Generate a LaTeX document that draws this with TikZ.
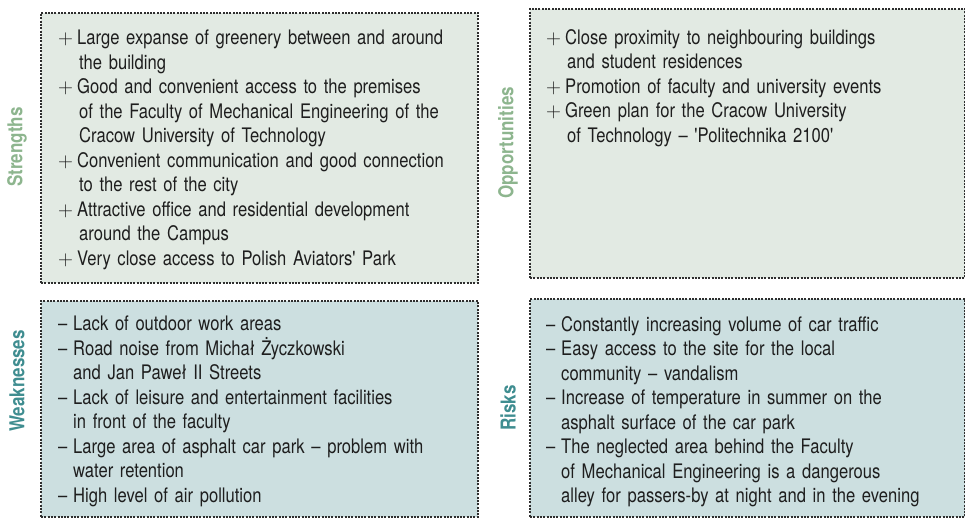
\documentclass[tikz,border=0pt]{standalone}
\usepackage{fontspec}
\newfontfamily\swotfont{TeX Gyre Heros}[FakeStretch=0.83]
\usetikzlibrary{positioning}
\definecolor{dotgray}{HTML}{2E2E2E}
\definecolor{posfill}{HTML}{E2EAE3}
\definecolor{negfill}{HTML}{CCDFE0}
\definecolor{posgreen}{HTML}{8DB58E}
\definecolor{negteal}{HTML}{3F8D90}
\definecolor{textgray}{HTML}{1E1E1E}
\tikzstyle{swotbox} = [rectangle, draw=dotgray, line width=2pt, dash pattern=on 2pt off 1.3pt, anchor=north west, inner sep=0pt]
\tikzstyle{swottext} = [anchor=north west, inner sep=0pt, text width=425pt, align=left, text=textgray, font=\swotfont\fontsize{20}{24.5}\selectfont]
\tikzstyle{swotlabel} = [rotate=90, font=\swotfont\bfseries\fontsize{20.5}{22}\selectfont]
\newcommand{\pl}{\makebox[19pt][l]{$+$}}
\newcommand{\mi}{\makebox[15pt][l]{–}}
\newcommand{\hangp}{\hspace*{21pt}}
\newcommand{\hangm}{\hspace*{15pt}}
\begin{document}
\begin{tikzpicture}[x=1pt, y=-1pt]
	\useasboundingbox (0,0) rectangle (965,517);
	% boxes
	\node (StrBox) [swotbox, fill=posfill, minimum width=437pt, minimum height=270pt] at (40,12) {};
	\node (OppBox) [swotbox, fill=posfill, minimum width=435pt, minimum height=269pt] at (529,8) {};
	\node (WeakBox) [swotbox, fill=negfill, minimum width=437pt, minimum height=216pt] at (40,300) {};
	\node (RiskBox) [swotbox, fill=negfill, minimum width=435pt, minimum height=218pt] at (529,298) {};
	% side labels
	\node (StrLabel) [swotlabel, text=posgreen] at (17,147) {Strengths};
	\node (OppLabel) [swotlabel, text=posgreen] at (508,143) {Opportunities};
	\node (WeakLabel) [swotlabel, text=negteal] at (17,381) {Weaknesses};
	\node (RiskLabel) [swotlabel, text=negteal] at (508,408) {Risks};
	% lists
	\node (StrText) [swottext] at (58,30) {\pl Large expanse of greenery between and around\\
		\hangp the building\\
		\pl Good and convenient access to the premises\\
		\hangp of the Faculty of Mechanical Engineering of the\\
		\hangp Cracow University of Technology\\
		\pl Convenient communication and good connection\\
		\hangp to the rest of the city\\
		\pl Attractive office and residential development\\
		\hangp around the Campus\\
		\pl Very close access to Polish Aviators' Park};
	\node (OppText) [swottext] at (546,29) {\pl Close proximity to neighbouring buildings\\
		\hangp and student residences\\
		\pl Promotion of faculty and university events\\
		\pl Green plan for the Cracow University\\
		\hangp of Technology – 'Politechnika 2100'};
	\node (WeakText) [swottext] at (58,316) {\mi Lack of outdoor work areas\\
		\mi Road noise from Michał Życzkowski\\
		\hangm and Jan Paweł II Streets\\
		\mi Lack of leisure and entertainment facilities\\
		\hangm in front of the faculty\\
		\mi Large area of asphalt car park – problem with\\
		\hangm water retention\\
		\mi High level of air pollution};
	\node (RiskText) [swottext] at (546,316) {\mi Constantly increasing volume of car traffic\\
		\mi Easy access to the site for the local\\
		\hangm community – vandalism\\
		\mi Increase of temperature in summer on the\\
		\hangm asphalt surface of the car park\\
		\mi The neglected area behind the Faculty\\
		\hangm of Mechanical Engineering is a dangerous\\
		\hangm alley for passers-by at night and in the evening};
\end{tikzpicture}
\end{document}
